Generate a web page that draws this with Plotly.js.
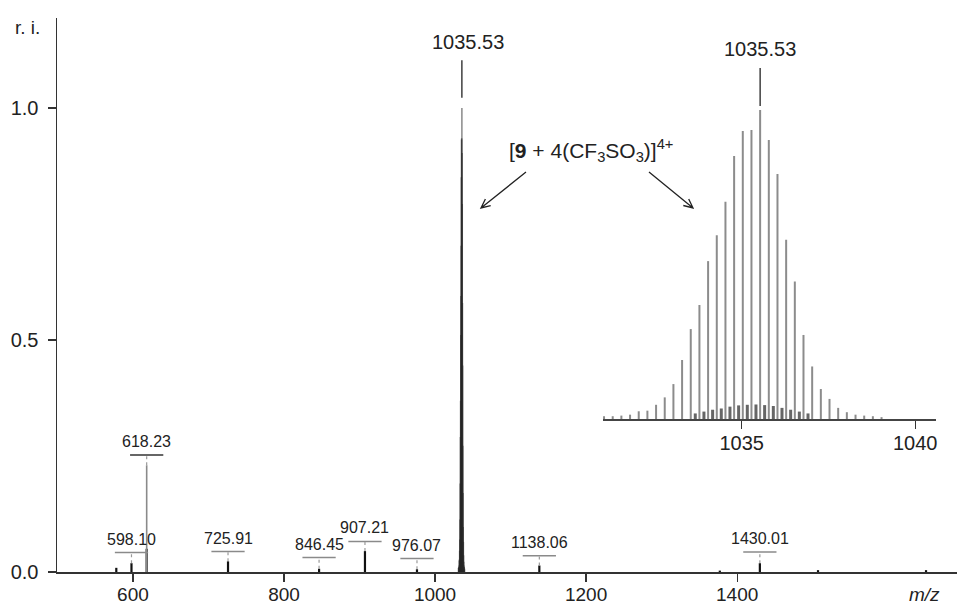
<!DOCTYPE html>
<html>
<head>
<meta charset="utf-8">
<script src="https://cdn.plot.ly/plotly-3.0.1.min.js"></script>
<style>
html,body{margin:0;padding:0;background:#fff;}
#chart{width:957px;height:607px;}
</style>
</head>
<body>
<div id="chart"></div>
<script>
// ---- data ----
// isotope pattern of [9 + 4(CF3SO3)]4+ (spacing 0.25)
const isoMz = [1031.03,1031.28,1031.53,1031.78,1032.03,1032.28,1032.53,1032.78,1033.03,1033.28,1033.53,1033.78,1034.03,1034.28,1034.53,1034.78,1035.03,1035.28,1035.53,1035.78,1036.03,1036.28,1036.53,1036.78,1037.03,1037.28,1037.53,1037.78,1038.03,1038.28,1038.53,1038.78,1039.03];
const isoInt = [0.009,0.009,0.011,0.014,0.025,0.027,0.046,0.070,0.113,0.191,0.291,0.369,0.511,0.595,0.703,0.851,0.932,0.935,1.000,0.903,0.793,0.580,0.445,0.272,0.170,0.097,0.065,0.036,0.022,0.014,0.011,0.009,0.006];
// minor overlapping species between the isotope lines
const minorMz = [1033.66,1033.91,1034.16,1034.41,1034.66,1034.91,1035.16,1035.41,1035.66,1035.91,1036.16,1036.41,1036.66,1036.91];
const minorInt = [0.018,0.024,0.030,0.034,0.040,0.044,0.046,0.047,0.045,0.042,0.036,0.030,0.024,0.018];

// other peaks of the full spectrum
const peakMz  = [578.0, 598.10, 618.23, 725.91, 846.45, 907.21, 976.07, 1138.06, 1377.0, 1430.01, 1507.0, 1650.0];
const peakInt = [0.009, 0.019, 0.050, 0.023, 0.007, 0.045, 0.006, 0.014, 0.003, 0.019, 0.004, 0.004];
const tallMz  = [618.23];
const tallInt = [0.230];

// labelled peaks
const labelMz   = [598.10, 618.23, 725.91, 846.45, 907.21, 976.07, 1138.06, 1430.01];
const labelTop  = [0.019, 0.230, 0.023, 0.007, 0.045, 0.006, 0.014, 0.019];
const labelBar  = [0.042, 0.252, 0.044, 0.031, 0.066, 0.029, 0.035, 0.043];

const xTicks = [600, 800, 1000, 1200, 1400];
const yTicks = [0, 0.5, 1.0];
const insetTicks = [1035, 1040];
const basePeak = 1035.53;

// ---- helpers ----
function sticks(xs, ys) {
  const X = [], Y = [];
  xs.forEach((x, i) => { X.push(x, x, null); Y.push(0, ys[i], null); });
  return {X, Y};
}

const FONT = 'Liberation Sans, Arial, Helvetica, sans-serif';
const TXT = '#222';

const s1 = sticks(peakMz, peakInt);
const s2 = sticks(tallMz, tallInt);
const s3 = sticks(isoMz, isoInt);
const s4 = sticks(minorMz, minorInt);

const traces = [
  {x: s1.X, y: s1.Y, mode: 'lines', line: {color: '#111', width: 2.2}, xaxis: 'x', yaxis: 'y', hoverinfo: 'skip'},
  {x: s2.X, y: s2.Y, mode: 'lines', line: {color: '#8a8a8a', width: 1.6}, xaxis: 'x', yaxis: 'y', hoverinfo: 'skip'},
  {x: s3.X, y: s3.Y, mode: 'lines', line: {color: 'rgba(40,40,40,0.55)', width: 1.5}, xaxis: 'x', yaxis: 'y', hoverinfo: 'skip'},
  {x: s4.X, y: s4.Y, mode: 'lines', line: {color: '#666', width: 3}, xaxis: 'x2', yaxis: 'y2', hoverinfo: 'skip'},
  {x: s3.X, y: s3.Y, mode: 'lines', line: {color: '#8c8c8c', width: 2}, xaxis: 'x2', yaxis: 'y2', hoverinfo: 'skip'}
];

const shapes = [];
const annotations = [];
labelMz.forEach((m, i) => {
  const dark = labelBar[i] > 0.2;
  shapes.push({type: 'line', xref: 'x', yref: 'y', x0: m - 22, x1: m + 22, y0: labelBar[i], y1: labelBar[i],
               line: {color: dark ? '#333' : '#8a8a8a', width: 1.5}});
  shapes.push({type: 'line', xref: 'x', yref: 'y', x0: m, x1: m, y0: labelTop[i], y1: labelBar[i],
               line: {color: '#9a9a9a', width: 1.2, dash: 'dot'}});
  annotations.push({xref: 'x', yref: 'y', x: m, y: labelBar[i], xanchor: 'center', yanchor: 'bottom', yshift: 3,
                    text: m.toFixed(2), showarrow: false, font: {family: FONT, size: 16, color: TXT}});
});

// main base-peak label
shapes.push({type: 'line', xref: 'x', yref: 'y', x0: basePeak, x1: basePeak, y0: 1.022, y1: 1.103,
             line: {color: '#222', width: 1.3}});
annotations.push({xref: 'x', yref: 'y', x: basePeak, y: 1.103, xanchor: 'center', yanchor: 'bottom', yshift: 5, xshift: 6,
                  text: basePeak.toFixed(2), showarrow: false, font: {family: FONT, size: 20, color: TXT}});
// inset base-peak label
shapes.push({type: 'line', xref: 'x2', yref: 'y2', x0: basePeak, x1: basePeak, y0: 1.013, y1: 1.136,
             line: {color: '#222', width: 1.3}});
annotations.push({xref: 'x2', yref: 'y2', x: basePeak, y: 1.136, xanchor: 'center', yanchor: 'bottom', yshift: 6,
                  text: basePeak.toFixed(2), showarrow: false, font: {family: FONT, size: 20, color: TXT}});

// species label
annotations.push({xref: 'paper', yref: 'paper', x: (591 - 57) / 900, y: (572 - 150) / 554,
                  xanchor: 'center', yanchor: 'middle',
                  text: '[<b>9</b> + 4(CF<sub>3</sub>SO<sub>3</sub>)]<sup>4+</sup>', showarrow: false,
                  font: {family: FONT, size: 21, color: TXT}});
// arrows (pixel-sized paths anchored at the arrow heads)
function arrowShape(hx, hy, path) {
  return {type: 'path', xref: 'paper', yref: 'paper', xsizemode: 'pixel', ysizemode: 'pixel',
          xanchor: (hx - 57) / 900, yanchor: (572 - hy) / 554, path: path,
          line: {color: '#222', width: 1.3}};
}
shapes.push(arrowShape(481, 208, 'M45,36L0,0M9.7,2.4L0,0L4.4,9'));
shapes.push(arrowShape(693, 208, 'M-44,36L0,0M-4.3,9L0,0L-9.7,2.5'));

// axis captions
annotations.push({xref: 'paper', yref: 'paper', x: (27.5 - 57) / 900, y: (572 - 27) / 554,
                  xanchor: 'center', yanchor: 'middle', text: 'r. i.',
                  showarrow: false, font: {family: FONT, size: 19, color: TXT}});
annotations.push({xref: 'paper', yref: 'paper', x: (924.5 - 57) / 900, y: -(594 - 572) / 554,
                  xanchor: 'center', yanchor: 'middle', text: '<i>m/z</i>',
                  showarrow: false, font: {family: FONT, size: 19, color: TXT}});

const layout = {
  width: 957, height: 607,
  margin: {l: 57, r: 0, t: 18, b: 35, pad: 0},
  paper_bgcolor: '#fff', plot_bgcolor: 'rgba(0,0,0,0)',
  showlegend: false,
  font: {family: FONT, size: 19, color: TXT},
  xaxis: {
    range: [499.5, 1691], domain: [0, 1], anchor: 'y',
    showgrid: false, zeroline: false, showline: true, linecolor: '#333', linewidth: 1.5,
    ticks: 'outside', ticklen: 8, tickwidth: 1.3, tickcolor: '#333', ticklabelstandoff: -3,
    tickmode: 'array', tickvals: xTicks, ticktext: xTicks.map(String),
    tickfont: {family: FONT, size: 19, color: TXT}, fixedrange: true
  },
  yaxis: {
    range: [0, 1.194], domain: [0, 1], anchor: 'x',
    showgrid: false, zeroline: false, showline: true, linecolor: '#333', linewidth: 1.5,
    ticks: 'outside', ticklen: 8, tickwidth: 1.3, tickcolor: '#333', ticklabelstandoff: 5,
    tickmode: 'array', tickvals: yTicks, ticktext: yTicks.map(v => v.toFixed(1)),
    tickfont: {family: FONT, size: 20, color: TXT}, fixedrange: true
  },
  xaxis2: {
    range: [1031, 1040.6], domain: [(603 - 57) / 900, (936 - 57) / 900], anchor: 'y2',
    showgrid: false, zeroline: false, showline: true, linecolor: '#444', linewidth: 2,
    ticks: 'outside', ticklen: 8, tickwidth: 1.3, tickcolor: '#333', ticklabelstandoff: -3,
    tickmode: 'array', tickvals: insetTicks, ticktext: insetTicks.map(String),
    tickfont: {family: FONT, size: 20, color: TXT}, fixedrange: true
  },
  yaxis2: {
    range: [0, 1.28], domain: [(572 - 419) / 554, (572 - 23.5) / 554], anchor: 'x2',
    visible: false, fixedrange: true
  },
  shapes: shapes,
  annotations: annotations
};

Plotly.newPlot('chart', traces, layout, {displayModeBar: false, staticPlot: true});
</script>
</body>
</html>
